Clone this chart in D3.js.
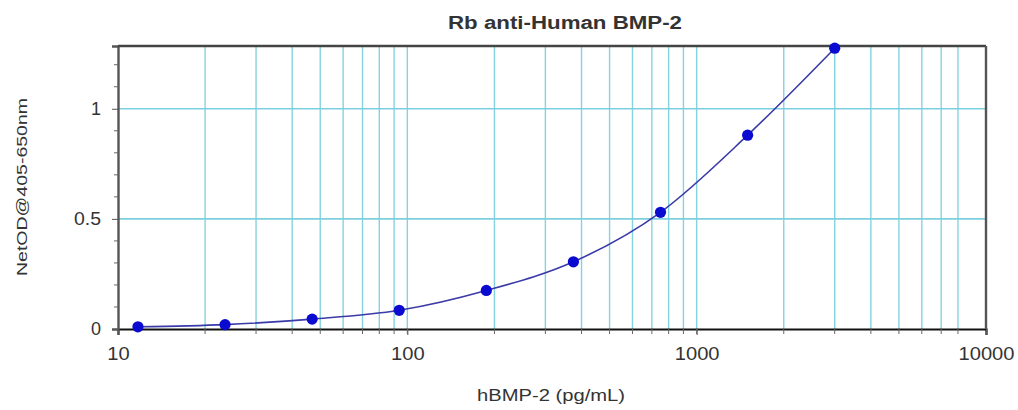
<!DOCTYPE html>
<html>
<head>
<meta charset="utf-8">
<script src="https://cdn.jsdelivr.net/npm/d3@7"></script>
<style>
  body { margin: 0; background: #ffffff; }
  .chart text { font-family: "Liberation Sans", Arial, sans-serif; fill: #333; }
</style>
</head>
<body>
<div class="chart"></div>
<script>
// standard curve, 2-fold dilutions
const concentrations = [11.72, 23.44, 46.88, 93.75, 187.5, 375, 750, 1500, 3000];
const odValues = [0.010, 0.020, 0.045, 0.085, 0.175, 0.305, 0.530, 0.880, 1.275];
const xTickLabels = [10, 100, 1000, 10000];
const yTickLabels = [0, 0.5, 1];

const title = 'Rb anti-Human BMP-2';
const xTitle = 'hBMP-2 (pg/mL)';
const yTitle = 'NetOD@405-650nm';

const width = 1018;
const height = 410;
const margin = { top: 46, right: 32, bottom: 81, left: 118 };
const plotW = width - margin.left - margin.right;
const plotH = height - margin.top - margin.bottom;

const svg = d3.select('.chart')
    .append('svg')
    .attr('width', width)
    .attr('height', height);

const x = d3.scaleLog().domain([10, 10000]).range([0, plotW]);
const y = d3.scaleLinear().domain([0, 1.285]).range([plotH, 0]);

const g = svg.append('g')
    .attr('transform', `translate(${margin.left}, ${margin.top})`);

// minor log positions for gridlines
const gridX = [];
for (let d = 10; d < 10000; d *= 10) {
    for (let k = 1; k <= 9; k++) {
        if (d * k > 10) gridX.push(d * k);
    }
}
gridX.pop(); // drop 10000, it sits on the border

g.selectAll('.vgrid')
    .data(gridX).enter()
    .append('line')
    .attr('x1', d => x(d)).attr('x2', d => x(d))
    .attr('y1', 0).attr('y2', plotH)
    .attr('stroke', '#86d2e0')
    .attr('stroke-width', 1.4);

g.selectAll('.hgrid')
    .data(yTickLabels.filter(v => v > 0)).enter()
    .append('line')
    .attr('x1', 0).attr('x2', plotW)
    .attr('y1', d => y(d)).attr('y2', d => y(d))
    .attr('stroke', '#7ccfdf')
    .attr('stroke-width', 1.6);

// the picture has wide, slightly stretched lettering
const charW = 11.2;

// x axis
const xAxis = g.append('g')
    .attr('transform', `translate(0, ${plotH})`)
    .call(d3.axisBottom(x)
        .tickValues(xTickLabels)
        .tickFormat(d3.format('d'))
        .tickSize(6)
        .tickPadding(12));
xAxis.selectAll('text')
    .style('font-size', '18px')
    .attr('fill', '#333')
    .attr('textLength', d => String(d).length * charW)
    .attr('lengthAdjust', 'spacingAndGlyphs');
xAxis.select('.domain').attr('stroke', '#111').attr('stroke-width', 2.2);
xAxis.selectAll('line').attr('stroke', '#555');

g.append('g')
    .attr('transform', `translate(0, ${plotH})`)
    .selectAll('line')
    .data(gridX).enter()
    .append('line')
    .attr('x1', d => x(d)).attr('x2', d => x(d))
    .attr('y1', 0).attr('y2', 5)
    .attr('stroke', '#666');

// y axis
const yAxis = g.append('g')
    .call(d3.axisLeft(y)
        .tickValues(yTickLabels)
        .tickFormat(d => d)
        .tickSize(6)
        .tickPadding(11));
yAxis.selectAll('text')
    .style('font-size', '18px')
    .attr('fill', '#333')
    .attr('textLength', d => String(d) === '0.5' ? 27 : 10)
    .attr('lengthAdjust', 'spacingAndGlyphs');
yAxis.select('.domain').attr('stroke', '#555').attr('stroke-width', 2.4);
yAxis.selectAll('line').attr('stroke', '#555');

g.append('g')
    .selectAll('line')
    .data(d3.range(0.1, 1.25, 0.1).filter(v => Math.abs(v - 0.5) > 0.01 && Math.abs(v - 1) > 0.01))
    .enter()
    .append('line')
    .attr('x1', -4).attr('x2', 0)
    .attr('y1', d => y(d)).attr('y2', d => y(d))
    .attr('stroke', '#666');

// top and right frame
g.append('line')
    .attr('x1', 0).attr('x2', plotW).attr('y1', 0).attr('y2', 0)
    .attr('stroke', '#444').attr('stroke-width', 2.4);
g.append('line')
    .attr('x1', plotW).attr('x2', plotW).attr('y1', 0).attr('y2', plotH)
    .attr('stroke', '#555').attr('stroke-width', 2.4);

const data = concentrations.map((c, i) => ({ c: c, od: odValues[i] }));

const line = d3.line()
    .x(d => x(d.c))
    .y(d => y(d.od))
    .curve(d3.curveMonotoneX);

g.append('path')
    .datum(data)
    .attr('fill', 'none')
    .attr('stroke', '#3a3aa8')
    .attr('stroke-width', 1.6)
    .attr('d', line);

g.selectAll('.pt')
    .data(data).enter()
    .append('circle')
    .attr('cx', d => x(d.c))
    .attr('cy', d => y(d.od))
    .attr('r', 5.6)
    .attr('fill', '#0a0ad0');

// titles
svg.append('text')
    .attr('x', 565)
    .attr('y', 29)
    .attr('text-anchor', 'middle')
    .style('font-size', '18px')
    .style('font-weight', 'bold')
    .attr('fill', '#222')
    .attr('textLength', 234)
    .attr('lengthAdjust', 'spacingAndGlyphs')
    .text(title);

svg.append('text')
    .attr('x', 551)
    .attr('y', 401)
    .attr('text-anchor', 'middle')
    .style('font-size', '16px')
    .attr('textLength', 148)
    .attr('lengthAdjust', 'spacingAndGlyphs')
    .text(xTitle);

svg.append('text')
    .attr('transform', 'translate(27, 187) rotate(-90)')
    .attr('text-anchor', 'middle')
    .style('font-size', '14.5px')
    .attr('textLength', 178)
    .attr('lengthAdjust', 'spacingAndGlyphs')
    .text(yTitle);
</script>
</body>
</html>
